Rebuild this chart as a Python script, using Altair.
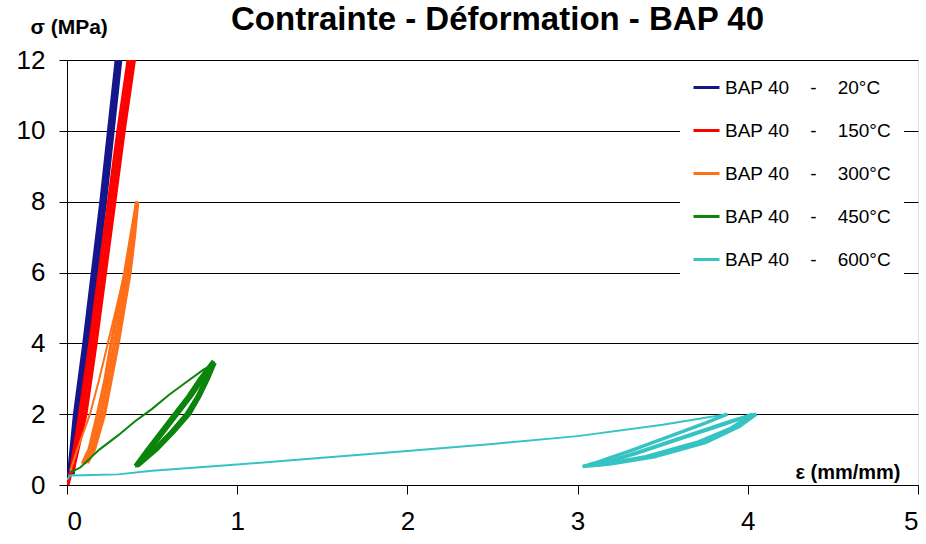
import altair as alt
import pandas as pd

# Legend labels (non-breaking spaces keep the gaps around the dash)
NB = "\u00a0"
temps = ["20°C", "150°C", "300°C", "450°C", "600°C"]
labels = ["BAP 40" + NB * 4 + "-" + NB * 4 + t for t in temps]
colors = ["#15158C", "#FF0000", "#FF6F1A", "#0A840A", "#35C3C3"]

# ---- 20°C : loading / unloading cycles (strain mm/mm, stress MPa)
b20_x1 = [0.01, 0.045, 0.10, 0.15, 0.20, 0.245, 0.29]
b20_y1 = [0.3, 2.0, 4.0, 6.0, 8.0, 10.0, 12.0]
b20_x2 = [0.035, 0.07, 0.125, 0.175, 0.225, 0.27, 0.315]
b20_y2 = [0.3, 2.0, 4.0, 6.0, 8.0, 10.0, 12.0]
b20_x3 = [0.02, 0.058, 0.112, 0.162, 0.212, 0.258, 0.303]
b20_y3 = [0.3, 2.0, 4.0, 6.0, 8.0, 10.0, 12.0]

# ---- 150°C
b150_x1 = [0.0, 0.02, 0.075, 0.135, 0.19, 0.245, 0.30, 0.36]
b150_y1 = [-0.1, 0.3, 2.0, 4.0, 6.0, 8.0, 10.0, 12.0]
b150_x2 = [0.035, 0.11, 0.17, 0.225, 0.28, 0.335, 0.395]
b150_y2 = [0.4, 2.0, 4.0, 6.0, 8.0, 10.0, 12.0]
b150_x3 = [0.028, 0.092, 0.152, 0.208, 0.262, 0.318, 0.378]
b150_y3 = [0.35, 2.0, 4.0, 6.0, 8.0, 10.0, 12.0]

# ---- 300°C : first loading, then cycles
b300_load_x = [0.02, 0.06, 0.135, 0.19, 0.24, 0.29, 0.34, 0.38, 0.415]
b300_load_y = [0.4, 1.0, 2.0, 3.0, 4.0, 5.0, 6.0, 7.0, 8.0]
b300_x1 = [0.415, 0.395, 0.37, 0.335, 0.30, 0.26, 0.22, 0.16, 0.12]
b300_y1 = [8.0, 7.0, 6.0, 5.0, 4.0, 3.0, 2.0, 1.0, 0.62]
b300_x2 = [0.09, 0.13, 0.18, 0.225, 0.26, 0.30, 0.34, 0.375, 0.41]
b300_y2 = [0.6, 1.0, 2.0, 3.0, 4.0, 5.0, 6.0, 7.0, 8.0]
b300_x3 = [0.41, 0.385, 0.355, 0.318, 0.28, 0.242, 0.2, 0.145, 0.105]
b300_y3 = [8.0, 7.0, 6.0, 5.0, 4.0, 3.0, 2.0, 1.0, 0.6]

# ---- 450°C
b450_load_x = [0.02, 0.08, 0.19, 0.30, 0.40, 0.50, 0.60, 0.70, 0.80, 0.87]
b450_load_y = [0.35, 0.5, 1.0, 1.4, 1.8, 2.15, 2.55, 2.9, 3.25, 3.45]
b450_x1 = [0.87, 0.83, 0.78, 0.72, 0.63, 0.53, 0.42, 0.40]
b450_y1 = [3.45, 3.0, 2.5, 2.0, 1.5, 1.0, 0.55, 0.54]
b450_x2 = [0.40, 0.47, 0.55, 0.63, 0.71, 0.78, 0.85, 0.86]
b450_y2 = [0.54, 1.0, 1.5, 2.0, 2.5, 3.0, 3.45, 3.5]
b450_x3 = [0.86, 0.815, 0.765, 0.70, 0.61, 0.51, 0.43]
b450_y3 = [3.5, 3.0, 2.5, 2.0, 1.5, 1.0, 0.6]
b450_x4 = [0.43, 0.49, 0.57, 0.65, 0.73, 0.80, 0.86]
b450_y4 = [0.6, 1.0, 1.5, 2.0, 2.5, 3.0, 3.4]

# ---- 600°C
b600_load_x = [0.0, 0.02, 0.15, 0.30, 0.50, 0.78, 1.0, 1.5, 2.0, 2.5, 3.0, 3.5, 3.75, 3.88]
b600_load_y = [0.15, 0.27, 0.28, 0.30, 0.40, 0.50, 0.58, 0.77, 0.96, 1.16, 1.38, 1.70, 1.90, 2.0]
b600_x1 = [3.88, 3.75, 3.5, 3.3, 3.1, 3.03]
b600_y1 = [2.0, 1.75, 1.3, 0.95, 0.62, 0.52]
b600_x2 = [3.03, 3.15, 3.4, 3.7, 3.9, 4.03]
b600_y2 = [0.52, 0.58, 0.8, 1.2, 1.6, 2.0]
b600_x3 = [4.03, 3.85, 3.6, 3.35, 3.15, 3.08]
b600_y3 = [2.0, 1.7, 1.3, 0.9, 0.62, 0.55]
b600_x4 = [3.08, 3.2, 3.45, 3.75, 3.95, 4.05]
b600_y4 = [0.55, 0.6, 0.8, 1.2, 1.65, 2.0]
b600_x5 = [4.05, 3.9, 3.65, 3.4, 3.15]
b600_y5 = [2.0, 1.8, 1.4, 1.0, 0.6]

segments = [
    (0, "cycles", b20_x1, b20_y1), (0, "cycles", b20_x2, b20_y2), (0, "cycles", b20_x3, b20_y3),
    (1, "cycles", b150_x1, b150_y1), (1, "cycles", b150_x2, b150_y2), (1, "cycles", b150_x3, b150_y3),
    (2, "charge", b300_load_x, b300_load_y), (2, "cycles", b300_x1, b300_y1),
    (2, "cycles", b300_x2, b300_y2), (2, "cycles", b300_x3, b300_y3),
    (3, "charge", b450_load_x, b450_load_y), (3, "cycles", b450_x1, b450_y1),
    (3, "cycles", b450_x2, b450_y2), (3, "cycles", b450_x3, b450_y3), (3, "cycles", b450_x4, b450_y4),
    (4, "charge", b600_load_x, b600_load_y), (4, "cycles", b600_x1, b600_y1),
    (4, "cycles", b600_x2, b600_y2), (4, "cycles", b600_x3, b600_y3),
    (4, "cycles", b600_x4, b600_y4), (4, "cycles", b600_x5, b600_y5),
]

rows = []
for k, (s, part, xs, ys) in enumerate(segments):
    for i, (xv, yv) in enumerate(zip(xs, ys)):
        rows.append({"serie": labels[s], "part": part, "seg": k, "ord": i, "eps": xv, "sigma": yv})
df = pd.DataFrame(rows)

FONT = "Liberation Sans"

chart = alt.Chart(df).mark_line(clip=True).encode(
    x=alt.X("eps:Q", scale=alt.Scale(domain=[0, 5], nice=False),
            axis=alt.Axis(values=[0, 1, 2, 3, 4, 5], format="d", grid=False,
                          domainColor="black", tickColor="black", tickSize=9,
                          labelFontSize=26, labelPadding=14, labelFont=FONT, labelColor="black",
                          title="ε (mm/mm)", titleFont=FONT, titleFontSize=20, titleFontWeight="bold",
                          titleColor="black", titleX=833, titleY=-7, titleAlign="right",
                          titleBaseline="alphabetic")),
    y=alt.Y("sigma:Q", scale=alt.Scale(domain=[0, 12], nice=False),
            axis=alt.Axis(values=[0, 2, 4, 6, 8, 10, 12], grid=True, gridColor="black", gridWidth=1,
                          domainColor="black", tickColor="black", tickSize=8,
                          labelFontSize=26, labelPadding=14, labelFont=FONT, labelColor="black",
                          title="σ (MPa)", titleFont=FONT, titleFontSize=21, titleFontWeight="bold",
                          titleColor="black", titleAngle=0, titleX=-37, titleY=-27,
                          titleAlign="left", titleBaseline="alphabetic")),
    color=alt.Color("serie:N", scale=alt.Scale(domain=labels, range=colors),
                    legend=alt.Legend(title=None, orient="none", legendX=613, legendY=1,
                                      fillColor="white", padding=12, symbolType="stroke",
                                      symbolSize=676, symbolStrokeWidth=3, labelFont=FONT,
                                      labelFontSize=19, labelColor="black", labelOffset=4,
                                      rowPadding=18, labelLimit=300)),
    detail="seg:N",
    order="ord:Q",
    strokeWidth=alt.StrokeWidth("part:N", scale=alt.Scale(domain=["charge", "cycles"], range=[2, 3.5]),
                                legend=None),
).properties(
    width=851,
    height=425,
    title=alt.TitleParams("Contrainte - Déformation - BAP 40", font=FONT, fontSize=33,
                          fontWeight="bold", color="black", anchor="middle", dx=5,
                          baseline="alphabetic", offset=-47),
    autosize=alt.AutoSizeParams(type="none"),
    padding={"left": 67, "top": 60, "right": 8, "bottom": 59},
).configure_view(stroke="black", strokeWidth=1).configure(background="white")

chart.save("out.html", embed_options={"renderer": "svg", "actions": False})
